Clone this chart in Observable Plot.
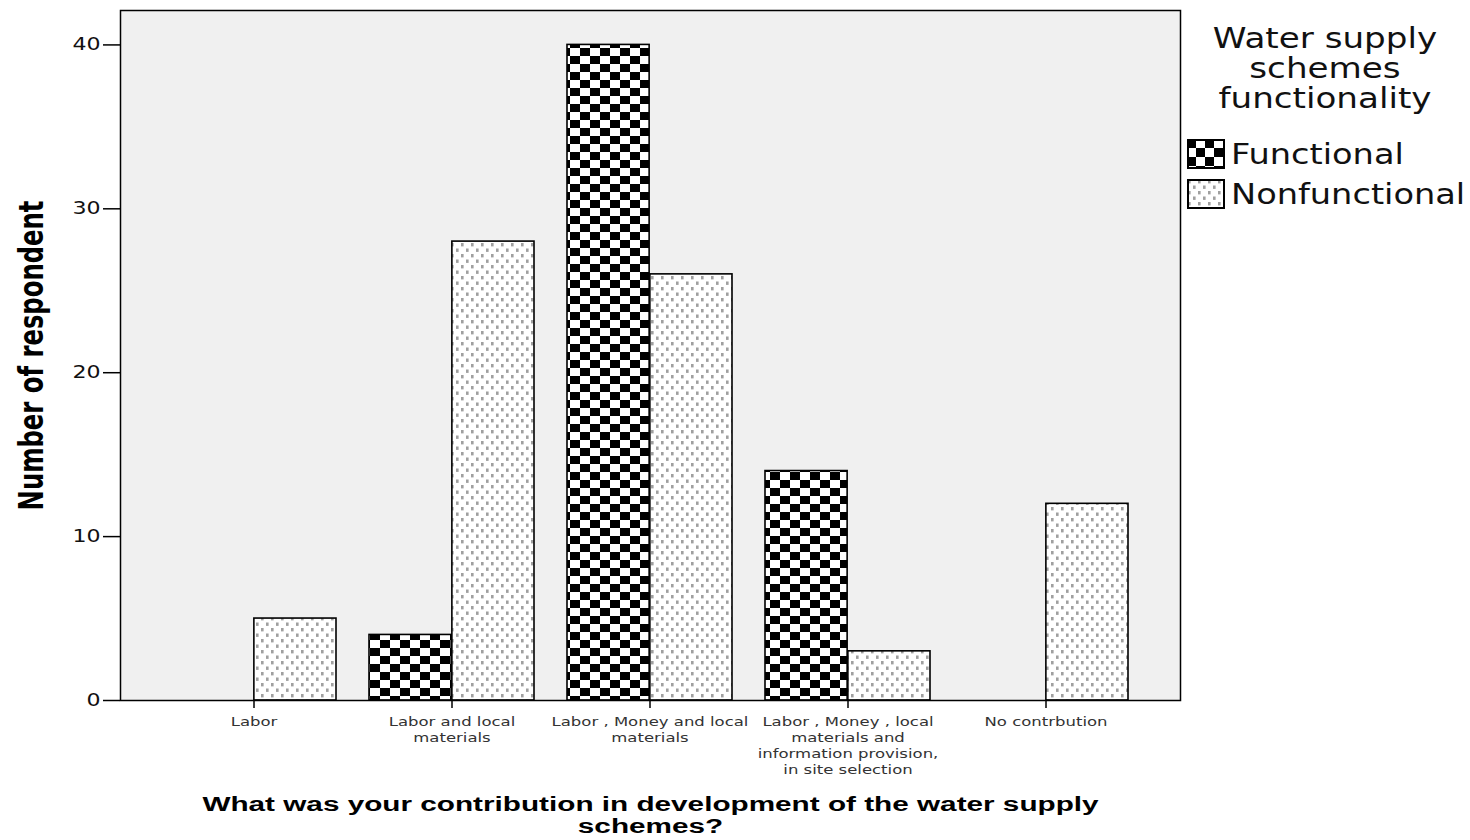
<!DOCTYPE html>
<html><head><meta charset="utf-8">
<script src="https://cdn.jsdelivr.net/npm/d3@7"></script>
<script src="https://cdn.jsdelivr.net/npm/@observablehq/plot@0.6"></script>
<style>
body{margin:0;background:#fff;}
#wrap{position:relative;width:1470px;height:840px;overflow:hidden;}
#legend{position:absolute;left:1183px;top:24px;width:284px;font-family:"DejaVu Sans",sans-serif;color:#111;}
#legend .title{text-align:center;font-size:28px;line-height:30px;}
#legend .title div{transform:scaleX(1.22);transform-origin:50% 50%;}
#legend .row{display:flex;align-items:center;height:40px;font-size:28px;margin-left:4px;}
#legend .row svg{margin-right:6px;display:block;}
#legend .row span{display:inline-block;transform:scaleX(1.2);transform-origin:0 50%;}
</style></head><body><div id="wrap"></div>
<script>
const categories = ["Labor", "Labor and local\nmaterials", "Labor , Money and local\nmaterials", "Labor , Money , local\nmaterials and\ninformation provision,\nin site selection", "No contrbution"];
const seriesNames = ["Functional", "Nonfunctional"];
const functional = [0, 4, 40, 14, 0];
const nonfunctional = [5, 28, 26, 3, 12];
const yTicks = [0, 10, 20, 30, 40];
const xTitle = "What was your contribution in development of the water supply\nschemes?";
const yTitle = "Number of respondent";
const legendTitle = ["Water supply", "schemes", "functionality"];

const W = 1470, H = 840, mL = 120, mR = 290, mT = 10, mB = 140;
const pIn = 0.166, pOut = 0.25;
const step = (W - mL - mR) / (categories.length - pIn + 2 * pOut);
const half = step * (1 - pIn) / 2;

const data = categories.flatMap((c, i) => [
  {cat: c, series: seriesNames[0], value: functional[i]},
  {cat: c, series: seriesNames[1], value: nonfunctional[i]}
]);

const NS = "http://www.w3.org/2000/svg";
function el(tag, attrs, parent) {
  const e = document.createElementNS(NS, tag);
  for (const k in attrs) e.setAttribute(k, attrs[k]);
  if (parent) parent.appendChild(e);
  return e;
}
function makeDefs(suffix, cw, ch) {
  const defs = el("defs", {});
  const p1 = el("pattern", {id: "chk" + suffix, width: 2 * cw, height: 2 * ch, patternUnits: "userSpaceOnUse"}, defs);
  el("rect", {x: 0, y: 0, width: 2 * cw, height: 2 * ch, fill: "#fff"}, p1);
  el("rect", {x: 0, y: 0, width: cw, height: ch, fill: "#000"}, p1);
  el("rect", {x: cw, y: ch, width: cw, height: ch, fill: "#000"}, p1);
  const p2 = el("pattern", {id: "dots" + suffix, width: 10, height: 11, patternUnits: "userSpaceOnUse"}, defs);
  el("rect", {x: 0, y: 0, width: 10, height: 11, fill: "#fff"}, p2);
  el("rect", {x: 1, y: 1, width: 2.6, height: 3.4, fill: "#a0a0a0"}, p2);
  el("rect", {x: 6, y: 6.5, width: 2.6, height: 3.4, fill: "#a0a0a0"}, p2);
  return defs;
}

const chart = Plot.plot({
  width: W, height: H,
  marginLeft: mL, marginRight: mR, marginTop: mT, marginBottom: mB,
  style: {background: "#fff", fontFamily: "DejaVu Sans, sans-serif"},
  x: {type: "band", domain: categories, paddingInner: pIn, paddingOuter: pOut, align: 0.5},
  y: {domain: [0, 42.1]},
  marks: [
    () => { const g = el("g", {}); g.appendChild(makeDefs("", 10, 8)); return g; },
    Plot.frame({fill: "#f0f0f0", stroke: null}),
    Plot.barY(data.filter(d => d.series === seriesNames[0] && d.value > 0), {x: "cat", y: "value", insetRight: half, fill: "url(#chk)", stroke: "#000", strokeWidth: 1.6}),
    Plot.barY(data.filter(d => d.series === seriesNames[1] && d.value > 0), {x: "cat", y: "value", insetLeft: half, fill: "url(#dots)", stroke: "#000", strokeWidth: 1.6}),
    Plot.frame({stroke: "#000", strokeWidth: 1.5}),
    Plot.axisY({ticks: yTicks, tickSize: 17, tickPadding: 3, fontSize: 17, label: null, stroke: "#000", fill: "#111", strokeWidth: 1.5}),
    Plot.axisX({tickSize: 8, tickPadding: 6, fontSize: 12.5, lineHeight: 1.28, label: null, stroke: "#000", fill: "#333", strokeWidth: 1.5}),
    Plot.text([xTitle], {text: d => d, frameAnchor: "bottom", lineAnchor: "top", dy: 95, fontSize: 20.5, fontWeight: "bold", lineHeight: 1.08, fontFamily: "Liberation Sans, sans-serif", fill: "#000"}),
    Plot.text([yTitle], {text: d => d, frameAnchor: "left", textAnchor: "middle", dx: -88, rotate: -90, fontSize: 27, fontWeight: "bold", fontFamily: "DejaVu Sans Condensed, DejaVu Sans, sans-serif", fill: "#000"})
  ]
});

// the reference is rendered horizontally stretched: widen the glyphs the same way
const svg = d3.select(chart);
function widen(sel, sx, sy) {
  sel.each(function() {
    const tr = this.getAttribute("transform") || "";
    this.setAttribute("transform", tr + ` scale(${sx},${sy})`);
  });
}
widen(svg.selectAll('g[aria-label="y-axis tick label"] text'), 1.3, 1);
widen(svg.selectAll('g[aria-label="x-axis tick label"] text'), 1.32, 1);
widen(svg.selectAll("text").filter(function() { return this.textContent.startsWith("What was"); }), 1.45, 1);
widen(svg.selectAll("text").filter(function() { return this.textContent === yTitle; }), 1, 1.25);

const wrap = document.getElementById("wrap");
wrap.appendChild(chart);

const legend = document.createElement("div");
legend.id = "legend";
const t = document.createElement("div");
t.className = "title";
legendTitle.forEach(line => { const d = document.createElement("div"); d.textContent = line; t.appendChild(d); });
legend.appendChild(t);
const fills = ["url(#chkL)", "url(#dotsL)"];
seriesNames.forEach((s, i) => {
  const row = document.createElement("div");
  row.className = "row";
  if (i === 0) row.style.marginTop = "20px";
  const sw = el("svg", {width: 38, height: 30});
  sw.appendChild(makeDefs("L", 9, 9));
  el("rect", {x: 1, y: 1, width: 36, height: 28, fill: fills[i], stroke: "#000", "stroke-width": 2}, sw);
  row.appendChild(sw);
  const lab = document.createElement("span");
  lab.textContent = s;
  row.appendChild(lab);
  legend.appendChild(row);
});
wrap.appendChild(legend);
</script></body></html>
